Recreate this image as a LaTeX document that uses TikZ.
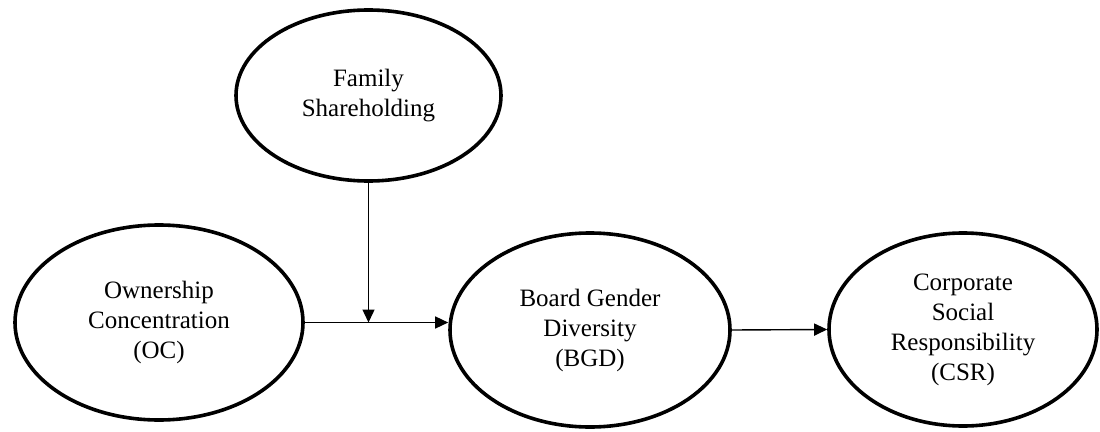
\documentclass[tikz,border=0pt]{standalone}
\usepackage{fontspec}
\setmainfont{Liberation Serif}
\usetikzlibrary{shapes.geometric,arrows.meta,calc}
\begin{document}
\begin{tikzpicture}[x=1pt,y=-1pt,
  construct/.style={ellipse,draw,line width=3.6pt,inner sep=0pt,align=center,
    font=\fontsize{25}{30}\selectfont},
  link/.style={line width=1.4pt,-{Triangle[length=13pt,width=12pt]}}]
\useasboundingbox (0,0) rectangle (1100,431);
\node[construct,minimum width=265pt,minimum height=171pt] (fam) at (368.5,95.5) {Family\\Shareholding};
\node[construct,minimum width=288pt,minimum height=195pt] (oc) at (159,322.5) {Ownership\\Concentration\\(OC)};
\node[construct,minimum width=280pt,minimum height=194pt] (bgd) at (590,330) {Board Gender\\Diversity\\(BGD)};
\node[construct,minimum width=268pt,minimum height=193pt] (csr) at (963,329.5) {Corporate\\Social\\Responsibility\\(CSR)};
\draw[link] (oc.east) -- (bgd.west |- oc.east);
\coordinate (mid) at ($(oc.east)!0.455!(bgd.west |- oc.east)$);
\draw[link] (fam.south) -- (fam.south |- mid);
\draw[link] (bgd.east) -- (csr.west);
\end{tikzpicture}
\end{document}
